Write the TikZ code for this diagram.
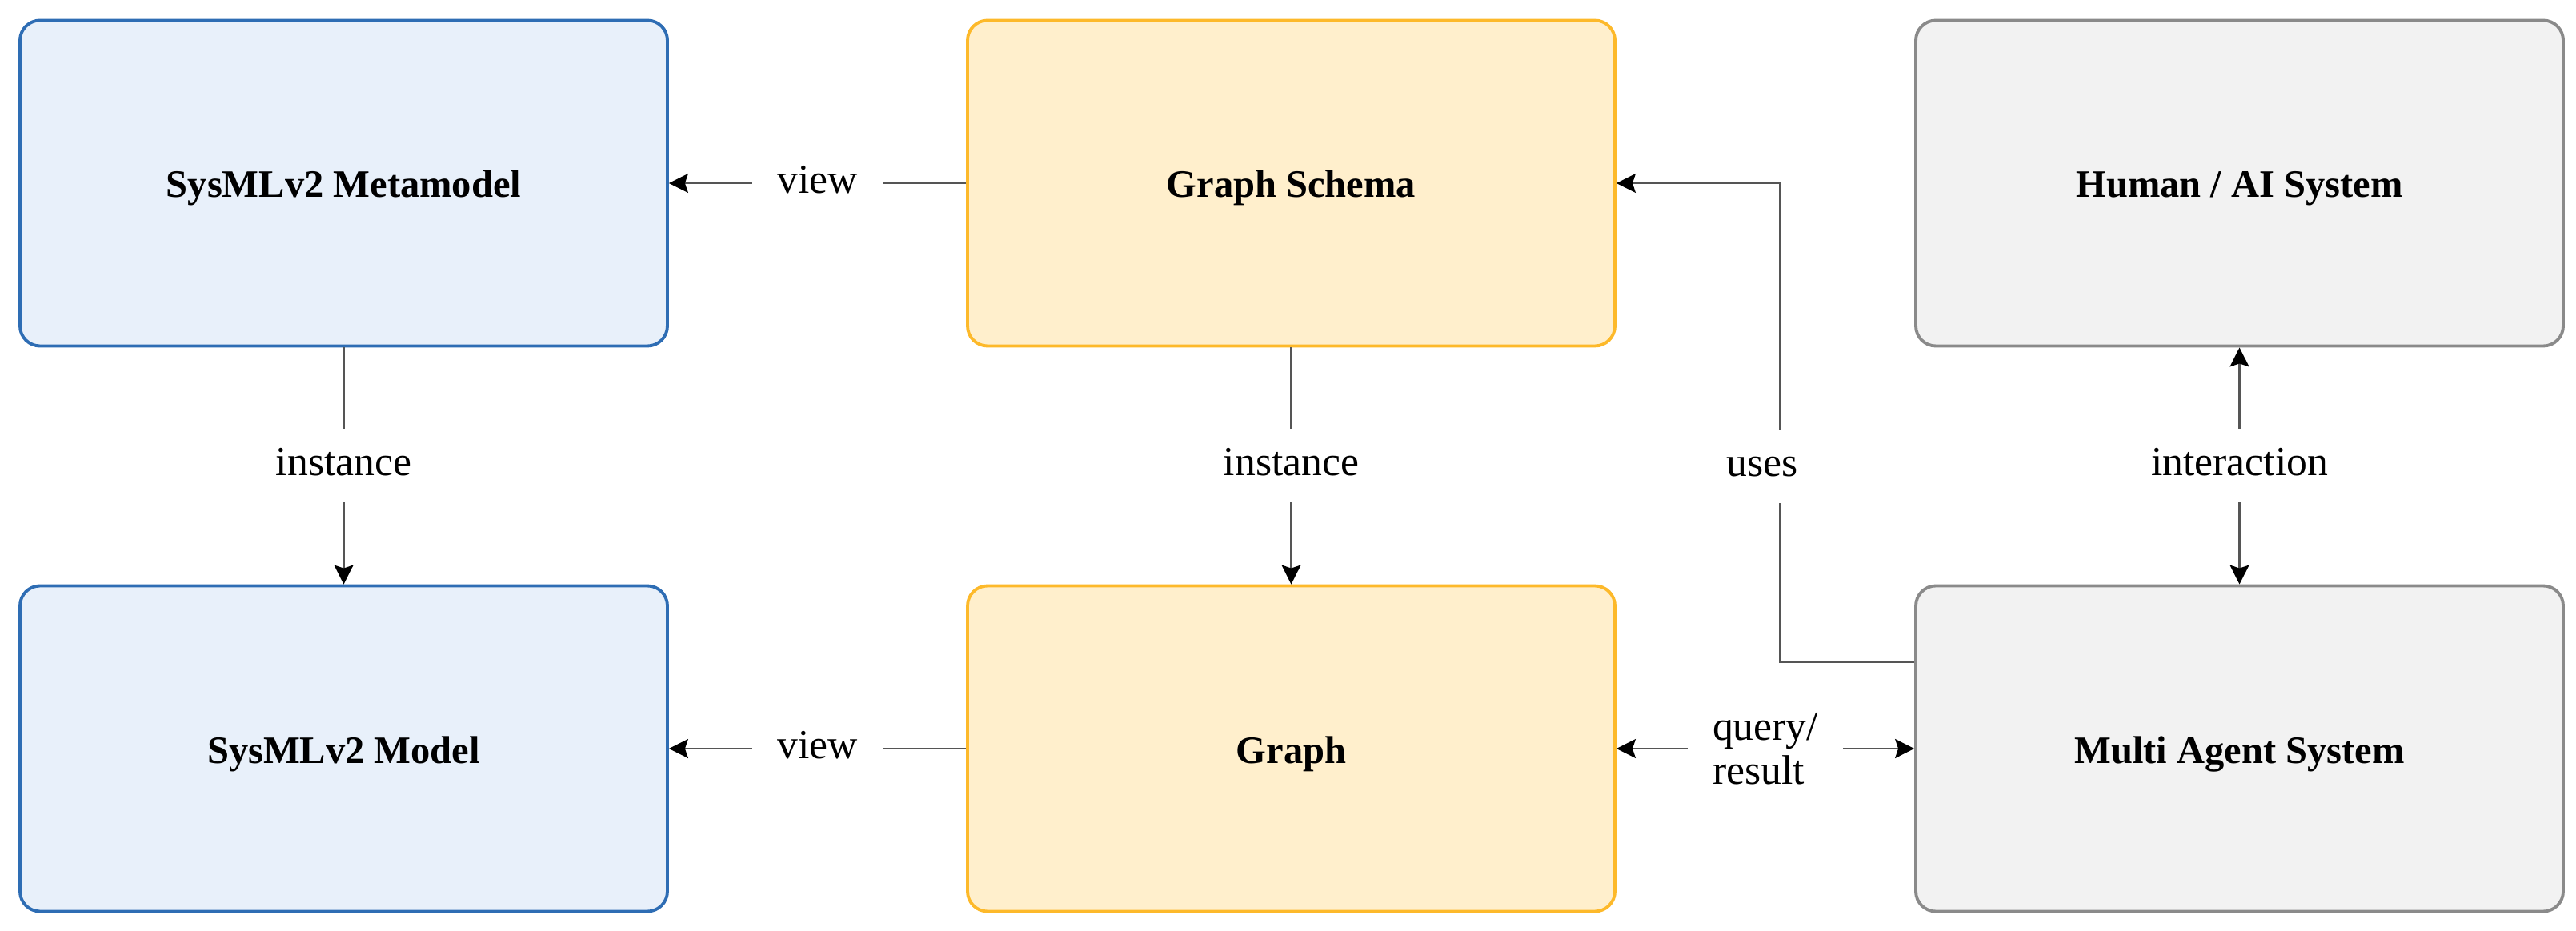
\documentclass[tikz,border=0pt]{standalone}
\usepackage{fontspec}
\setmainfont{Liberation Serif}
\usetikzlibrary{arrows.meta,calc}
\definecolor{bluefill}{HTML}{E8F0FA}
\definecolor{bluedraw}{HTML}{2E6DB4}
\definecolor{yelfill}{HTML}{FFEFCC}
\definecolor{yeldraw}{HTML}{FDB92A}
\definecolor{greyfill}{HTML}{F2F2F2}
\definecolor{greydraw}{HTML}{8A8A8A}
\definecolor{linecol}{HTML}{555555}
\tikzset{
  boxbase/.style={rectangle, rounded corners=0.25cm, line width=1.1pt,
    minimum width=8.09cm, minimum height=4.07cm, inner sep=0pt,
    text height=0.46cm, text depth=0.1cm,
    font=\fontsize{13.8}{16}\selectfont\bfseries},
  bluebox/.style={boxbase, fill=bluefill, draw=bluedraw},
  yelbox/.style={boxbase, fill=yelfill, draw=yeldraw},
  greybox/.style={boxbase, fill=greyfill, draw=greydraw},
  conn/.style={draw=linecol, line width=0.6pt,
    arrows={-Stealth[length=2.4mm,width=2.4mm,inset=0.4mm,color=black]}},
  conn2/.style={draw=linecol, line width=0.6pt,
    arrows={Stealth[length=2.4mm,width=2.4mm,inset=0.4mm,color=black]-Stealth[length=2.4mm,width=2.4mm,inset=0.4mm,color=black]}},
  lbl/.style={fill=white, font=\fontsize{14.7}{15.6}\selectfont,
    text height=0.35cm, text depth=0.1cm, inner xsep=0.31cm, inner ysep=0.235cm}
}
\begin{document}
\begin{tikzpicture}
\useasboundingbox[fill=white] (0,0) rectangle (32.19,11.63);

\node[bluebox] (meta) at (4.295,9.34) {SysMLv2 Metamodel};
\node[bluebox] (model) at (4.295,2.27) {SysMLv2 Model};
\node[yelbox] (schema) at (16.135,9.34) {Graph Schema};
\node[yelbox] (graph) at (16.135,2.27) {Graph};
\node[greybox] (human) at (27.985,9.34) {Human / AI System};
\node[greybox] (mas) at (27.985,2.27) {Multi Agent System};

\draw[conn] (schema.west) -- node[lbl] (v1) {view} (meta.east);
\draw[conn] (graph.west) -- node[lbl] (v2) {view} (model.east);
\draw[conn] (meta.south) -- node[lbl] (i1) {instance} (model.north);
\draw[conn] (schema.south) -- node[lbl] (i2) {instance} (graph.north);
\draw[conn2] (human.south) -- node[lbl] (ia) {interaction} (mas.north);
\draw[conn2] (graph.east) -- node[lbl, align=left, text height=, text depth=, inner ysep=0.1cm,
   font=\fontsize{14.7}{15.6}\selectfont] (qr) {query/\\result} (mas.west);

\coordinate (usesA) at ($(mas.west)+(0,1.08)$);
\coordinate (bendx) at (22.24,0);
\draw[conn] (usesA) -- (usesA -| bendx) -- node[lbl, pos=0.409, xshift=-0.22cm] (us) {uses} (bendx |- schema.east) -- (schema.east);
\end{tikzpicture}
\end{document}
